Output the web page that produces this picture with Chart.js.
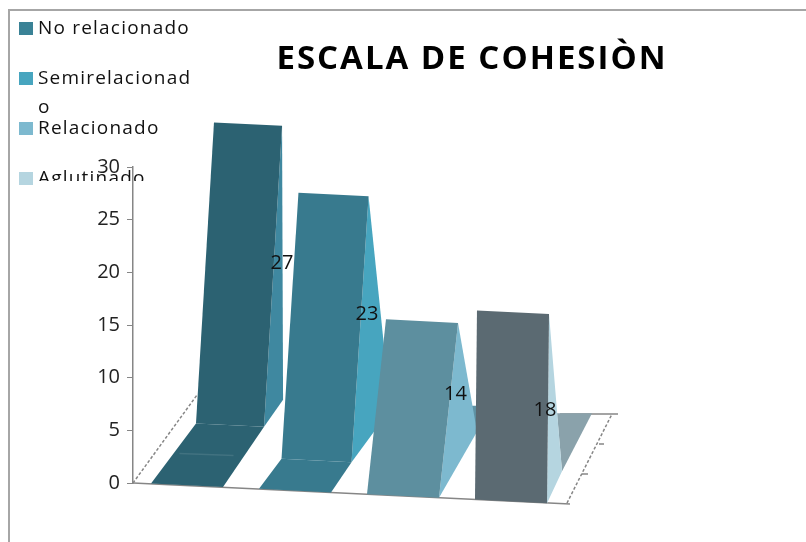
<!DOCTYPE html>
<html>
<head>
<meta charset="utf-8">
<title>Escala de cohesion</title>
<script src="https://cdn.jsdelivr.net/npm/chart.js@4/dist/chart.umd.min.js"></script>
<style>
    html, body { margin: 0; padding: 0; background: #fff; }
    #wrap { position: relative; width: 806px; height: 542px; filter: blur(0.35px); }
</style>
</head>
<body>
<div id="wrap"><canvas id="cohesion"></canvas></div>
<script>
const title = 'ESCALA DE COHESIÒN';
const categories = ['No relacionado', 'Semirelacionado', 'Relacionado', 'Aglutinado'];
const values = [27, 23, 14, 18];
const yTicks = [0, 5, 10, 15, 20, 25, 30];

// colours per category
const wallColors = ['#2c6272', '#387a8e', '#5d8f9f', '#5b6a72'];
const sideColors = ['#3f88a0', '#47a5bf', '#7db9cf', '#b5d5e0'];
const swatchColors = ['#3a8296', '#47a5bf', '#7db9cf', '#b5d5e0'];
const backColors = [null, null, '#5f93a5', '#8aa2ab'];

// the fake 3D look: how each wall is pushed back, stretched and leaned
const tilt = 0.05;
const recess = [1, 0.5, 0, 0];
const stretch = [1.06, 1.1, 1.19, 1];
const lean = [18, 17, 19, 2];
const sideShape = [
    [[19, -27]],
    [[25, -34], [33, -111]],
    [[38, -66]],
    [[15, -32], [10, -92]]
];
const backShape = [null, null, [[30, -92], [38, -92], [38, -62]], [[10, -90], [45, -90], [15, -32]]];
const labelShift = [[9, -13], [7, -15], [7, -16], [-3, 2]];

const legendRows = [28, 78, 128, 178];

const poly = (ctx, pts, color) => {
    ctx.fillStyle = color;
    ctx.beginPath();
    pts.forEach((p, n) => n ? ctx.lineTo(p[0], p[1]) : ctx.moveTo(p[0], p[1]));
    ctx.closePath();
    ctx.fill();
};

const line = (ctx, a, b, dash, color) => {
    ctx.save();
    ctx.strokeStyle = color || '#868686';
    ctx.lineWidth = 1.5;
    ctx.setLineDash(dash || []);
    ctx.beginPath();
    ctx.moveTo(a[0], a[1]);
    ctx.lineTo(b[0], b[1]);
    ctx.stroke();
    ctx.restore();
};

// works out the corners of one wall from its bar element
const wallOf = (chart, el, i) => {
    const left = chart.chartArea.left;
    const frontX = el.x - el.width / 2;
    const frontY = el.base + (frontX - left) * tilt;
    const frontW = el.width;
    const backX = frontX + 45 * recess[i];
    const backY = frontY - 60 * recess[i];
    const backW = frontW * (1 - 0.055 * recess[i]);
    const h = (el.base - el.y) * stretch[i];
    return { frontX, frontY, frontW, backX, backY, backW, h };
};

const walls3d = {
    id: 'walls3d',
    beforeDatasetsDraw(chart) {
        const { ctx, chartArea } = chart;
        const l = chartArea.left, b = chartArea.bottom;
        line(ctx, [l, b], [l + 437, b + 21]);
        line(ctx, [l, b], [l + 64, b - 88], [3, 2]);
        line(ctx, [l + 434, b + 20], [l + 479, b - 69], [3, 2]);
        line(ctx, [l + 427, b - 69], [l + 485, b - 69]);
        line(ctx, [l + 449, b - 9], [l + 455, b - 9]);
        line(ctx, [l + 466, b - 39], [l + 471, b - 39]);

        const meta = chart.getDatasetMeta(0);
        meta.data.forEach((el, i) => {
            const w = wallOf(chart, el, i);
            const ax = w.backX + w.backW;
            const ay = w.backY + w.backW * tilt;
            const topY = w.backY - w.h;
            const topX = w.backX + lean[i];
            if (backShape[i]) {
                poly(ctx, backShape[i].map(p => [ax + p[0], ay + p[1]]), backColors[i]);
            }
            const side = [[ax, ay], [topX + w.backW, topY + w.backW * tilt]];
            sideShape[i].slice().reverse().forEach(p => side.push([ax + p[0], ay + p[1]]));
            poly(ctx, side, sideColors[i]);
            if (recess[i]) {
                poly(ctx, [
                    [w.frontX, w.frontY],
                    [w.frontX + w.frontW, w.frontY + w.frontW * tilt],
                    [ax, ay],
                    [w.backX, w.backY]
                ], wallColors[i]);
            }
            poly(ctx, [
                [w.backX, w.backY],
                [ax, ay],
                [topX + w.backW, topY + w.backW * tilt],
                [topX, topY]
            ], wallColors[i]);
            // faint seam across the deep floor
            if (recess[i] === 1) {
                const mx = (w.frontX + w.backX) / 2, my = (w.frontY + w.backY) / 2;
                line(ctx, [mx + 6, my], [mx + w.backW - 8, my + 2], null, 'rgba(255,255,255,0.1)');
            }
        });
    },
    afterDatasetsDraw(chart) {
        const { ctx } = chart;
        const meta = chart.getDatasetMeta(0);
        ctx.save();
        ctx.font = '20px "Open Sans"';
        ctx.fillStyle = '#111';
        ctx.textAlign = 'center';
        ctx.textBaseline = 'middle';
        meta.data.forEach((el, i) => {
            const w = wallOf(chart, el, i);
            const mx = w.backX + w.backW + lean[i] / 2;
            const my = w.backY + w.backW * tilt - w.h / 2;
            ctx.fillText(String(values[i]), mx + labelShift[i][0], my + labelShift[i][1]);
        });
        ctx.restore();
    }
};

const frameAndText = {
    id: 'frameAndText',
    beforeDraw(chart) {
        const { ctx } = chart;
        ctx.save();
        ctx.strokeStyle = '#a6a6a6';
        ctx.lineWidth = 2;
        ctx.strokeRect(9, 10, 820, 560);
        ctx.restore();
    },
    afterDraw(chart) {
        const { ctx } = chart;
        ctx.save();
        ctx.fillStyle = '#000';
        ctx.font = 'bold 33px "Open Sans"';
        ctx.letterSpacing = '2px';
        ctx.textAlign = 'center';
        ctx.textBaseline = 'middle';
        ctx.fillText(title, 472, 60);

        ctx.textAlign = 'left';
        ctx.font = '19px "Open Sans"';
        ctx.letterSpacing = '1.2px';
        categories.forEach((name, i) => {
            const y = legendRows[i];
            ctx.fillStyle = swatchColors[i];
            ctx.fillRect(19, y - 6, 14, 13);
            ctx.fillStyle = '#111';
            ctx.save();
            // legend box is too short, the last entry gets cut off
            ctx.beginPath();
            ctx.rect(0, 0, 300, 181);
            ctx.clip();
            ctx.fillText(name.slice(0, 14), 38, y + 1);
            if (name.length > 14) ctx.fillText(name.slice(14), 38, y + 30);
            ctx.restore();
        });
        ctx.restore();
    }
};

new Chart(document.getElementById('cohesion'), {
    type: 'bar',
    data: {
        labels: categories,
        datasets: [{
            data: values,
            backgroundColor: 'rgba(0,0,0,0)',
            categoryPercentage: 0.667,
            barPercentage: 1
        }]
    },
    options: {
        responsive: true,
        maintainAspectRatio: false,
        animation: false,
        layout: { padding: { left: 0, top: 167, right: 241, bottom: 59 } },
        plugins: { legend: { display: false }, title: { display: false }, tooltip: { enabled: false } },
        scales: {
            x: { display: false },
            y: {
                min: 0,
                max: 30,
                afterFit(scale) { scale.width = 133; },
                afterBuildTicks(scale) { scale.ticks = yTicks.map(v => ({ value: v })); },
                grid: { drawOnChartArea: false, drawTicks: true, tickLength: 6, color: '#868686' },
                border: { display: true, color: '#868686', width: 1.5 },
                ticks: { color: '#222', font: { family: '"Open Sans"', size: 20 }, padding: 7 }
            }
        }
    },
    plugins: [frameAndText, walls3d]
});
</script>
</body>
</html>
